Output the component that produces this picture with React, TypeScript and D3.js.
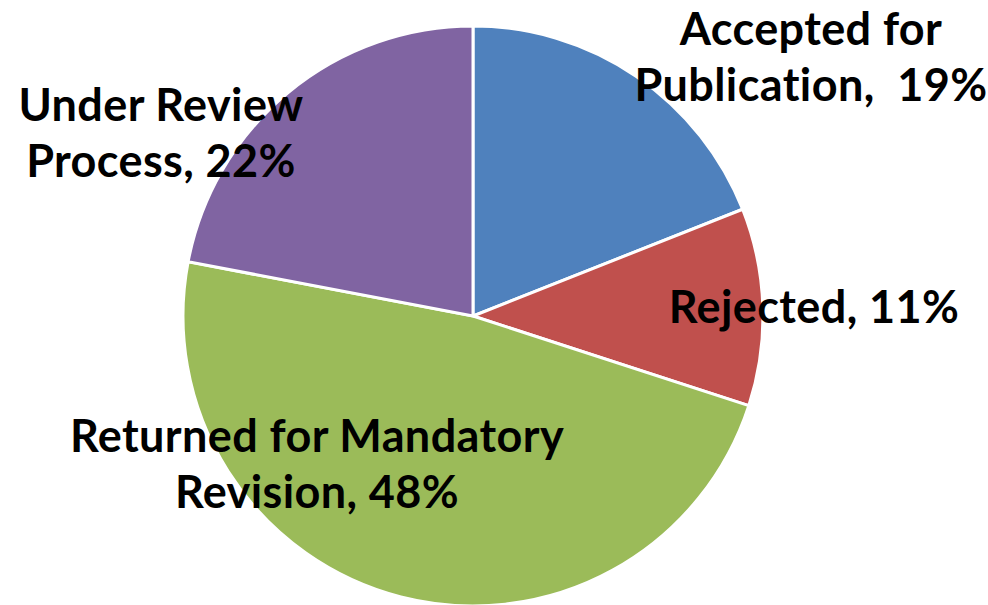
import React from "react";
import * as d3 from "d3";

const categories = [
  "Accepted for Publication",
  "Rejected",
  "Returned for Mandatory Revision",
  "Under Review Process",
];
const values = [19, 11, 48, 22];
const colors = ["#4F81BD", "#C0504D", "#9BBB59", "#8064A2"];
const labelLines = [
  ["Accepted for", "Publication,  19%"],
  ["Rejected, 11%"],
  ["Returned for Mandatory", "Revision, 48%"],
  ["Under Review", "Process, 22%"],
];

const W = 988;
const H = 605;
const cx = 473;
const cy = 316;
const R = 290;

// label anchor (centre x, first baseline y) for each slice, in px
const labelPos: [number, number][] = [
  [811, 45],
  [814, 323],
  [317, 452],
  [161, 121],
];

export default function App() {
  const pie = d3
    .pie<number>()
    .sort(null)
    .value((d) => d);
  const arcs = pie(values);
  const arc = d3.arc<d3.PieArcDatum<number>>().innerRadius(0).outerRadius(R);
  return (
    <svg
      width={W}
      height={H}
      style={{ position: "absolute", left: 0, top: 0, background: "#fff" }}
    >
      <g transform={`translate(${cx},${cy})`}>
        {arcs.map((a, i) => (
          <path
            key={categories[i]}
            d={arc(a) || ""}
            fill={colors[i]}
            stroke="#fff"
            strokeWidth={3}
          />
        ))}
      </g>
      {labelLines.map((lines, i) => (
        <text
          key={i}
          textAnchor="middle"
          fontFamily="Lato, 'Open Sans', sans-serif"
          fontWeight="bold"
          fontSize={45}
          letterSpacing={0.4}
          fill="#000"
        >
          {lines.map((l, j) => (
            <tspan key={j} x={labelPos[i][0]} y={labelPos[i][1] + j * 56} style={{ whiteSpace: "pre" }}>
              {l}
            </tspan>
          ))}
        </text>
      ))}
    </svg>
  );
}
